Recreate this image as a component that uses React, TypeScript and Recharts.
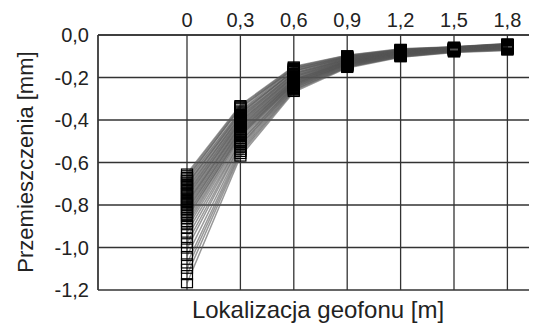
import {CartesianGrid, Line, LineChart, XAxis, YAxis} from 'recharts'
import {JSX} from 'react'

// geophone locations [m]
const locations = [0, 0.3, 0.6, 0.9, 1.2, 1.5, 1.8]
const xTicks = [0, 0.3, 0.6, 0.9, 1.2, 1.5, 1.8]
const yTicks = [0, -0.2, -0.4, -0.6, -0.8, -1.0, -1.2]

// displacement [mm] read for every measurement, one array per geophone
const at00 = [-0.652, -0.66, -0.668, -0.675, -0.683, -0.69, -0.7, -0.705, -0.713, -0.722, -0.73, -0.738, -0.745, -0.752, -0.76, -0.768, -0.777, -0.785, -0.79, -0.798, -0.806, -0.815, -0.822, -0.83, -0.84, -0.848, -0.857, -0.866, -0.88, -0.895, -0.91, -0.93, -0.955, -0.98, -1.005, -1.04, -1.075, -1.1, -1.13, -1.168]
const at03 = [-0.33, -0.335, -0.345, -0.34, -0.355, -0.36, -0.37, -0.365, -0.375, -0.385, -0.38, -0.39, -0.395, -0.4, -0.41, -0.405, -0.415, -0.42, -0.43, -0.425, -0.435, -0.44, -0.45, -0.445, -0.455, -0.46, -0.47, -0.465, -0.475, -0.48, -0.49, -0.5, -0.505, -0.515, -0.52, -0.53, -0.54, -0.55, -0.56, -0.572]
const at06 = [-0.148, -0.152, -0.155, -0.16, -0.158, -0.165, -0.168, -0.172, -0.17, -0.178, -0.18, -0.185, -0.183, -0.19, -0.192, -0.195, -0.2, -0.198, -0.205, -0.208, -0.21, -0.212, -0.215, -0.218, -0.22, -0.222, -0.225, -0.228, -0.23, -0.232, -0.235, -0.238, -0.24, -0.244, -0.247, -0.25, -0.254, -0.258, -0.262, -0.268]
const at09 = [-0.095, -0.097, -0.1, -0.102, -0.101, -0.104, -0.106, -0.108, -0.107, -0.11, -0.112, -0.113, -0.115, -0.114, -0.117, -0.118, -0.12, -0.121, -0.122, -0.124, -0.125, -0.126, -0.127, -0.128, -0.13, -0.131, -0.132, -0.134, -0.135, -0.136, -0.138, -0.139, -0.14, -0.142, -0.144, -0.146, -0.148, -0.15, -0.152, -0.155]
const at12 = [-0.065, -0.067, -0.068, -0.07, -0.069, -0.072, -0.073, -0.074, -0.075, -0.076, -0.077, -0.078, -0.078, -0.079, -0.08, -0.081, -0.082, -0.082, -0.083, -0.084, -0.085, -0.085, -0.086, -0.087, -0.088, -0.088, -0.089, -0.09, -0.091, -0.092, -0.093, -0.094, -0.095, -0.096, -0.097, -0.098, -0.1, -0.101, -0.103, -0.105]
const at15 = [-0.055, -0.056, -0.057, -0.058, -0.058, -0.059, -0.06, -0.06, -0.061, -0.062, -0.062, -0.063, -0.063, -0.064, -0.064, -0.065, -0.065, -0.066, -0.066, -0.067, -0.067, -0.068, -0.068, -0.069, -0.069, -0.07, -0.07, -0.071, -0.072, -0.072, -0.073, -0.074, -0.075, -0.075, -0.076, -0.077, -0.078, -0.079, -0.08, -0.082]
const at18 = [-0.04, -0.041, -0.042, -0.043, -0.043, -0.044, -0.045, -0.046, -0.046, -0.047, -0.048, -0.048, -0.049, -0.05, -0.05, -0.051, -0.052, -0.052, -0.053, -0.053, -0.054, -0.055, -0.055, -0.056, -0.057, -0.057, -0.058, -0.059, -0.06, -0.06, -0.061, -0.062, -0.063, -0.064, -0.065, -0.066, -0.067, -0.069, -0.071, -0.073]

const byLocation = [at00, at03, at06, at09, at12, at15, at18]
const seriesKeys = at00.map((_, i) => `s${i}`)

const data = locations.map((x, j) => {
	const row: Record<string, number> = {x}
	seriesKeys.forEach((k, i) => {
		row[k] = byLocation[j][i]
	})
	return row
})

const FONT = '"Liberation Sans", Arial, sans-serif'
const fmtX = (v: number) => (v === 0 ? '0' : v.toFixed(1).replace('.', ','))
const fmtY = (v: number) => v.toFixed(1).replace('.', ',')

// pusty kwadrat jako znacznik
const SquareDot = (p: any): JSX.Element => (
	<rect key={`${p.dataKey}-${p.index}`} x={p.cx - 5.5} y={p.cy - 4.5} width={11} height={9} fill='none' stroke='#000' strokeWidth={1.2} />
)

const App = (): JSX.Element => {
	return (
		<div style={{position: 'relative', width: 529, height: 317, overflow: 'hidden', fontFamily: FONT, color: '#222'}}>
			<LineChart width={540} height={317} data={data} margin={{top: 0, right: 5, bottom: 35, left: 0}}>
				<CartesianGrid stroke='#333' strokeWidth={1.3} vertical horizontal />
				<XAxis
					dataKey='x'
					type='number'
					orientation='top'
					domain={[-0.5, 2]}
					ticks={xTicks}
					allowDataOverflow
					tickFormatter={fmtX}
					tickLine={false}
					axisLine={{stroke: '#333', strokeWidth: 1.3}}
					height={27}
					tick={{fill: '#222', fontSize: 20, fontFamily: FONT}}
				/>
				<YAxis
					type='number'
					domain={[-1.2, 0]}
					ticks={yTicks}
					tickFormatter={fmtY}
					tickLine={false}
					tickMargin={3}
					axisLine={{stroke: '#333', strokeWidth: 1.3}}
					width={90}
					tick={{fill: '#222', fontSize: 20, fontFamily: FONT}}
				/>
				{seriesKeys.map((k) => (
					<Line
						key={k}
						dataKey={k}
						type='linear'
						stroke='#555'
						strokeOpacity={0.6}
						strokeWidth={1.5}
						dot={SquareDot}
						activeDot={false}
						isAnimationActive={false}
					/>
				))}
			</LineChart>
			{/* tytuły osi */}
			<div style={{position: 'absolute', left: 18, top: 154, transform: 'translate(-50%, -50%) rotate(-90deg)', whiteSpace: 'nowrap', fontSize: 22}}>
				Przemieszczenia [mm]
			</div>
			<div style={{position: 'absolute', left: 310, top: 302, transform: 'translate(-50%, -50%)', whiteSpace: 'nowrap', fontSize: 24}}>
				Lokalizacja geofonu [m]
			</div>
		</div>
	)
}

export default App
